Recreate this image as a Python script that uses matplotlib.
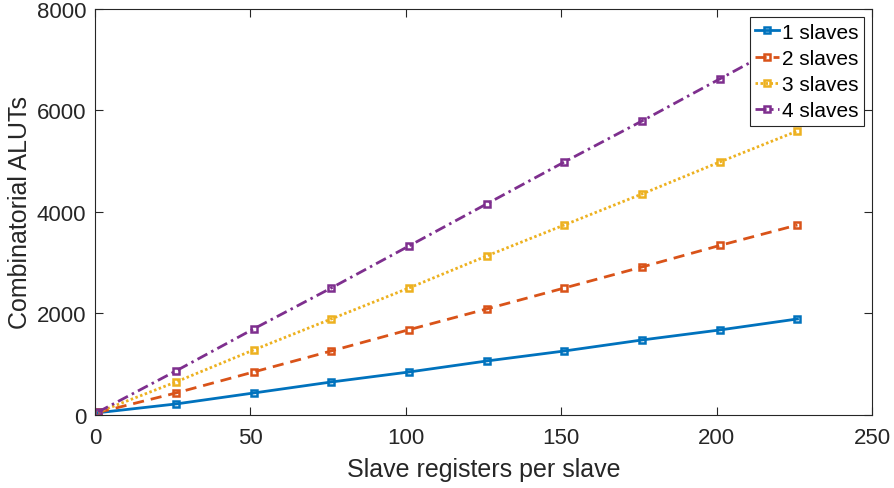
import matplotlib.pyplot as plt

plt.rcParams['font.family'] = ['Liberation Sans', 'DejaVu Sans']

# data
regs = [1, 26, 51, 76, 101, 126, 151, 176, 201, 226]
s1 = [45, 217, 433, 650, 847, 1064, 1261, 1478, 1675, 1892]
s2 = [50, 433, 847, 1261, 1680, 2089, 2502, 2916, 3340, 3744]
s3 = [55, 650, 1281, 1892, 2502, 3133, 3744, 4355, 4985, 5596]
s4 = [60, 867, 1695, 2502, 3330, 4158, 4985, 5793, 6621, 7448]
labels = ['1 slaves', '2 slaves', '3 slaves', '4 slaves']
series = [s1, s2, s3, s4]
colors = ['#0072BD', '#D95319', '#EDB120', '#7E2F8E']
dashes = [(None, None), (4, 2.5), (0.9, 0.9), (4, 1.6, 0.9, 1.6)]

fig = plt.figure(figsize=(8.94, 4.89), dpi=100)
ax = fig.add_axes([0.1063, 0.1493, 0.8691, 0.8303])

for ys, lab, c, d in zip(series, labels, colors, dashes):
    ln, = ax.plot(regs, ys, color=c, marker='s', ms=4.5, mfc='none', mew=1.8,
                  lw=2.0, label=lab)
    if d[0] is not None:
        ln.set_dashes(d)

ax.set_xlim(0, 250)
ax.set_ylim(0, 8000)
ax.set_xticks(range(0, 251, 50))
ax.set_yticks(range(0, 8001, 2000))
ax.tick_params(direction='in', top=True, right=True, labelsize=16,
               colors='#262626', length=6)
ax.tick_params(axis='x', pad=9)
ax.tick_params(axis='y', pad=6.5)
for sp in ax.spines.values():
    sp.set_color('#262626')
    sp.set_linewidth(0.8)

ax.set_xlabel('Slave registers per slave', fontsize=18, color='#262626',
              labelpad=6)
ax.set_ylabel('Combinatorial ALUTs', fontsize=18, color='#262626',
              labelpad=3)

leg = ax.legend(loc='upper right', fontsize=15, fancybox=False,
                framealpha=1, edgecolor='#262626', borderpad=0.25,
                labelspacing=0.35, handlelength=1.15, handletextpad=0.15,
                borderaxespad=0.4)
leg.get_frame().set_linewidth(0.8)

fig.savefig('out.png', dpi=100)
